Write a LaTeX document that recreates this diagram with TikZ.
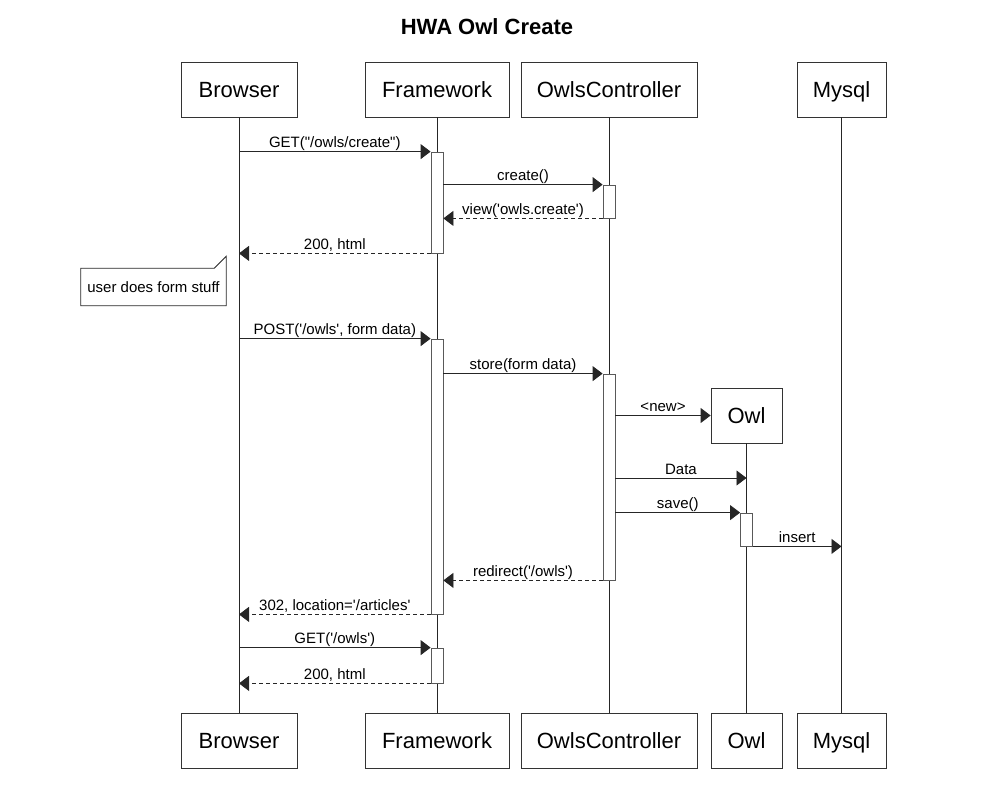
\documentclass[tikz,border=0pt]{standalone}
\usepackage{fontspec}
\setmainfont{Liberation Sans}[Ligatures=TeXOff]
\usetikzlibrary{arrows.meta}
\tikzset{
  part/.style={draw=black!80, fill=white, line width=0.8pt, minimum height=55, inner sep=0pt, text height=16pt, text depth=1pt, font=\fontsize{22}{24}\selectfont},
  act/.style={draw=black!65, fill=white, line width=0.8pt, minimum width=12, inner sep=0pt},
  life/.style={draw=black!85, line width=0.8pt},
  msg/.style={draw=black!85, line width=0.8pt, -{Triangle[length=10,width=15]}},
  ret/.style={msg, dashed, dash pattern=on 4pt off 3pt},
  lbl/.style={font=\fontsize{15}{17}\selectfont, inner sep=0pt, anchor=base, yshift=4pt},
}
\begin{document}
\begin{tikzpicture}[x=1pt,y=-1pt]
\useasboundingbox (0,0) rectangle (1000,790);
\node[font=\bfseries\fontsize{22}{24}\selectfont] (title) at (487,27) {HWA Owl Create};
% top participants
\node[part, minimum width=116] (bT) at (239,89.5) {Browser};
\node[part, minimum width=144] (fT) at (437,89.5) {Framework};
\node[part, minimum width=176] (cT) at (609,89.5) {OwlsController};
\node[part, minimum width=89] (mT) at (841.5,89.5) {Mysql};
\node[part, minimum width=71] (oT) at (746.5,415.5) {Owl};
% bottom participants
\node[part, minimum width=116] (bB) at (239,740.5) {Browser};
\node[part, minimum width=144] (fB) at (437,740.5) {Framework};
\node[part, minimum width=176] (cB) at (609,740.5) {OwlsController};
\node[part, minimum width=71] (oB) at (746.5,740.5) {Owl};
\node[part, minimum width=89] (mB) at (841.5,740.5) {Mysql};
% lifelines
\draw[life] (bT) -- (bB);
\draw[life] (fT) -- (fB);
\draw[life] (cT) -- (cB);
\draw[life] (oT) -- (oB);
\draw[life] (mT) -- (mB);
% activations
\node[act, minimum height=101] (fa1) at (437,202.5) {};
\node[act, minimum height=33] (ca1) at (609,201.5) {};
\node[act, minimum height=275] (fa2) at (437,476.5) {};
\node[act, minimum height=206] (ca2) at (609,477) {};
\node[act, minimum height=33] (oa1) at (746.5,529.5) {};
\node[act, minimum height=35] (fa3) at (437,665.5) {};
% note
\node[font=\fontsize{15}{17}\selectfont, minimum width=145, minimum height=37, inner sep=0pt] (note) at (153.5,287) {user does form stuff};
\draw[draw=black!85, line width=0.8pt, fill=none]
  (note.north west) -- ([xshift=-12]note.north east) -- ([yshift=12]note.north east) -- (note.south east) -- (note.south west) -- cycle;
% message endpoints
\coordinate (b1) at (bT.south |- fa1.north);
\coordinate (b2) at (bT.south |- fa1.south);
\coordinate (b3) at (bT.south |- fa2.north);
\coordinate (b4) at (bT.south |- fa2.south);
\coordinate (b5) at (bT.south |- fa3.north);
\coordinate (b6) at (bT.south |- fa3.south);
\coordinate (o1) at (oT.south |- 0,478);
\coordinate (c1) at (ca2.east |- o1);
\coordinate (c2) at (ca2.east |- oa1.north);
\coordinate (c3) at (ca2.east |- oT.west);
\coordinate (m1) at (mT.south |- oa1.south);
% messages
\draw[msg] (b1) -- node[lbl]{GET("/owls/create")} (fa1.north west);
\draw[msg] (fa1.east |- ca1.north) -- node[lbl]{create()} (ca1.north west);
\draw[ret] (ca1.south west) -- node[lbl]{view('owls.create')} (fa1.east |- ca1.south);
\draw[ret] (fa1.south west) -- node[lbl]{200, html} (b2);
\draw[msg] (b3) -- node[lbl]{POST('/owls', form data)} (fa2.north west);
\draw[msg] (fa2.east |- ca2.north) -- node[lbl]{store(form data)} (ca2.north west);
\draw[msg] (c3) -- node[lbl]{<new>} (oT.west);
\draw[msg] (c1) -- node[lbl]{Data} (o1);
\draw[msg] (c2) -- node[lbl]{save()} (oa1.north west);
\draw[msg] (oa1.south east) -- node[lbl]{insert} (m1);
\draw[ret] (ca2.south west) -- node[lbl]{redirect('/owls')} (fa2.east |- ca2.south);
\draw[ret] (fa2.south west) -- node[lbl]{302, location='/articles'} (b4);
\draw[msg] (b5) -- node[lbl]{GET('/owls')} (fa3.north west);
\draw[ret] (fa3.south west) -- node[lbl]{200, html} (b6);
\end{tikzpicture}
\end{document}
